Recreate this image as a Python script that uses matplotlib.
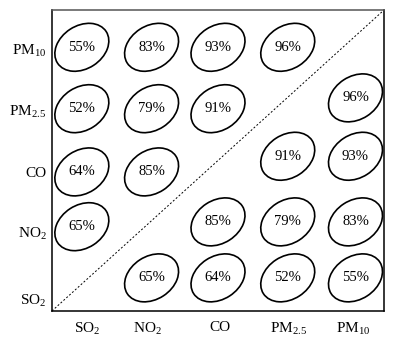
import matplotlib
matplotlib.use("Agg")
import matplotlib.pyplot as plt
import matplotlib.transforms as mtransforms
from matplotlib.patches import Ellipse
import numpy as np

plt.rcParams['font.family'] = ['Liberation Serif', 'DejaVu Serif']
plt.rcParams['mathtext.fontset'] = 'custom'
plt.rcParams['mathtext.rm'] = 'Liberation Serif'

# pollutants, bottom-to-top / left-to-right
labels = [r'$\mathrm{SO_2}$', r'$\mathrm{NO_2}$', 'CO',
          r'$\mathrm{PM_{2.5}}$', r'$\mathrm{PM_{10}}$']

# pairwise values (%), symmetric
pct = np.array([
    [0, 65, 64, 52, 55],
    [65, 0, 85, 79, 83],
    [64, 85, 0, 91, 93],
    [52, 79, 91, 0, 96],
    [55, 83, 93, 96, 0],
])

# layout
col_x = [0.45, 1.5, 2.5, 3.55, 4.57]
row_y_upper = [0.5, 1.40, 2.31, 3.36, 4.38]
row_y_lower = [0.55, 1.48, 2.57, 3.54, 4.5]
xtick_pos = [0.53, 1.43, 2.53, 3.56, 4.53]
ytick_pos = [0.2, 1.32, 2.31, 3.34, 4.36]

fig = plt.figure(figsize=(4.09, 3.44), dpi=100)
ax = fig.add_axes([0.127, 0.096, 0.812, 0.875])
ax.set_xlim(0, 5)
ax.set_ylim(0, 5)

ax.plot([0, 5], [0, 5], color='black', lw=0.7, linestyle=(0, (2, 2)))


def draw_cell(x, y, val):
    trans = fig.dpi_scale_trans + mtransforms.ScaledTranslation(x, y, ax.transData)
    e = Ellipse((0, 0), 0.58, 0.43, angle=33, fill=False,
                edgecolor='black', lw=1.2, transform=trans)
    ax.add_patch(e)
    ax.text(x, y, f'{val}%', ha='center', va='center', fontsize=10.5)


n = len(labels)
for i in range(n):
    for j in range(n):
        if i > j:
            draw_cell(col_x[j], row_y_upper[i], pct[i, j])
        elif i < j:
            draw_cell(col_x[j], row_y_lower[i], pct[i, j])

ax.set_xticks(xtick_pos)
ax.set_xticklabels(labels, fontsize=11)
ax.set_yticks(ytick_pos)
ax.set_yticklabels(labels, fontsize=11)
ax.tick_params(length=0, pad=7)
ax.tick_params(axis='y', pad=4)
for s in ax.spines.values():
    s.set_linewidth(1.1)
ax.spines['top'].set_color('#555555')

fig.savefig('out.png', dpi=100)
